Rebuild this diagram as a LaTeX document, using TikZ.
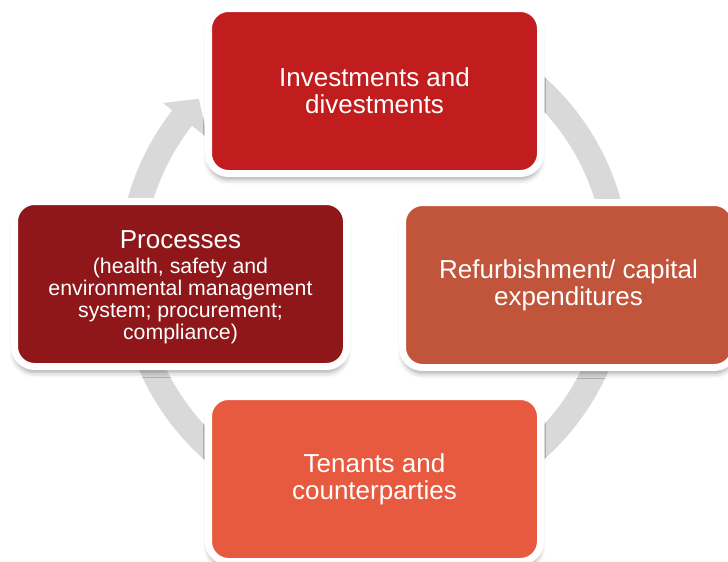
\documentclass[tikz,border=0pt]{standalone}
\usepackage{fontspec}
\setmainfont{Liberation Sans}
\usetikzlibrary{shadows.blur}
\definecolor{ringgray}{RGB}{217,217,217}
\definecolor{cTop}{RGB}{193,28,30}
\definecolor{cLeft}{RGB}{143,22,25}
\definecolor{cRight}{RGB}{193,85,59}
\definecolor{cBottom}{RGB}{232,90,63}
\tikzset{
  cyclebox/.style={rectangle, rounded corners=20pt, draw=white, line width=7pt,
    minimum width=332pt, minimum height=165pt, text=white, align=center,
    font=\fontsize{26}{27}\selectfont, inner sep=0pt,
    blur shadow={shadow xshift=0pt, shadow yshift=-6pt, shadow blur radius=5pt, shadow opacity=35}},
}
\begin{document}
\begin{tikzpicture}[x=1pt,y=-1pt]
\useasboundingbox (0,0) rectangle (728,562);
\coordinate (C) at (374,268);
% ring with arrow head
\begin{scope}[shift={(C)}]
\fill[ringgray] (-90:256) arc[start angle=-90,end angle=218,radius=256]
  -- (218:268) -- (224:243.5) -- (218:211) -- (218:231)
  arc[start angle=218,end angle=-90,radius=231] -- cycle;
\end{scope}
\node[cyclebox, fill=cTop] (inv) at (374.5,91) {Investments and\\divestments};
\node[cyclebox, fill=cRight] (ref) at (568.5,285) {Refurbishment/ capital\\expenditures};
\node[cyclebox, fill=cBottom] (ten) at (374.5,479) {Tenants and\\counterparties};
\node[cyclebox, fill=cLeft] (pro) at (180.5,284) {\rule{0pt}{25pt}Processes\\[-2pt]
  {\fontsize{21.3}{21.7}\selectfont (health, safety and}\\[-5pt]
  {\fontsize{21.3}{21.7}\selectfont environmental management}\\[-5pt]
  {\fontsize{21.3}{21.7}\selectfont system; procurement;}\\[-5pt]
  {\fontsize{21.3}{21.7}\selectfont compliance)}};
\end{tikzpicture}
\end{document}
